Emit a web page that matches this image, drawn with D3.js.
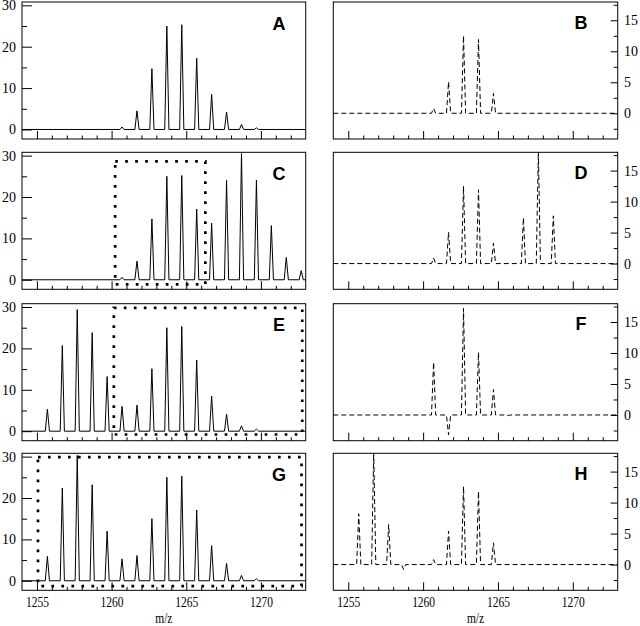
<!DOCTYPE html>
<html><head><meta charset="utf-8">
<script src="https://cdn.jsdelivr.net/npm/d3@7"></script>
<style>body{margin:0;background:#fff}svg{display:block}</style>
</head><body>
<script>
// ---- data ----
const peakMz = [1255.7,1256.7,1257.7,1258.7,1259.7,1260.7,1261.7,1262.7,1263.7,1264.7,1265.7,1266.7,1267.7,1268.7,1269.7,1270.7,1271.7,1272.7];
const heightsA = [null,null,null,null,null,0.6,4.5,14.7,25.0,25.3,17.2,8.5,4.2,1.2,0.4,null,null,null];
const heightsB = [null,null,null,null,null,0.8,5.1,12.5,11.9,3.2,null,null,null,null,null,null,null,null];
const heightsC = [null,null,null,null,null,0.6,4.5,14.7,25.0,25.2,17.1,13.7,24.0,30.5,24.1,13.1,5.4,2.2];
const heightsD = [null,null,null,null,null,0.9,5.05,12.5,11.9,3.3,null,7.4,18.1,7.7,null,null,null,null];
const heightsE = [5.3,20.7,29.4,23.8,13.2,6.0,6.3,15.1,25.0,25.3,17.2,8.5,4.1,1.3,0.5,null,null,null];
const heightsF = [null,null,null,null,null,8.5,-3.2,17.2,10.1,4.1,-0.1,null,null,null,null,null,null,null];
const heightsG = [5.9,22.4,30.3,23.2,12.0,5.3,6.1,15.0,25.0,25.3,17.1,8.5,4.2,1.3,0.5,null,null,null];
const heightsH = [8.2,18.2,6.45,-0.8,null,0.8,5.4,12.6,11.8,3.5,null,null,null,null,null,null,null,null];
const panelLabels = ["A","B","C","D","E","F","G","H"];
// dotted selection boxes [mzStart, mzEnd, yLow, yHigh]
const boxC = [1260.24, 1266.28, -1.1, 28.6];
const boxE = [1260.15, 1272.77, -0.8, 29.8];
const boxG = [1255.07, 1272.72, -1.28, 29.9];
const xMajorTicks = [1255,1260,1265,1270];
const xMinorTicks = d3.range(1255,1273,1);
const leftYMajor = [0,10,20,30];
const leftYMinor = [5,15,25];
const rightYMajor = [0,5,10,15];
const rightYMinor = [-2.5,2.5,7.5,12.5,17.5];
const xDomain = [1254,1273];
const leftYDomain = [-2.3,30.8];
const rightYDomain = [-4.15,17.95];
const xTitle = "m/z";

// ---- layout ----
const W=640,H=626;
const rowTops=[2,152.3,303.7,453.3];
const panelH=137;
const colX=[[22,305.7],[333.3,617.7]];
const serif="'Liberation Serif','Times New Roman',serif";
const svg=d3.select("body").append("svg").attr("width",W).attr("height",H);

const panels=[
 {h:heightsA,col:0,row:0,box:null},
 {h:heightsB,col:1,row:0,box:null},
 {h:heightsC,col:0,row:1,box:boxC},
 {h:heightsD,col:1,row:1,box:null},
 {h:heightsE,col:0,row:2,box:boxE},
 {h:heightsF,col:1,row:2,box:null},
 {h:heightsG,col:0,row:3,box:boxG},
 {h:heightsH,col:1,row:3,box:null}
];
const hw=0.14;

panels.forEach((p,i)=>{
  const top=rowTops[p.row], bot=top+panelH;
  const [x0,x1]=colX[p.col];
  const x=d3.scaleLinear().domain(xDomain).range([x0,x1]);
  const y=d3.scaleLinear().domain(p.col===0?leftYDomain:rightYDomain).range([bot,top]);
  const g=svg.append("g");
  const cid="clip"+i;
  svg.append("clipPath").attr("id",cid).append("rect")
    .attr("x",x0).attr("y",top).attr("width",x1-x0).attr("height",panelH);

  // trace
  const pts=[[xDomain[0],0]];
  peakMz.forEach((m,k)=>{
    const v=p.h[k];
    if(v==null) return;
    pts.push([m-hw,0],[m,v],[m+hw,0]);
  });
  pts.push([xDomain[1],0]);
  const line=d3.line().x(d=>x(d[0])).y(d=>y(d[1]));
  g.append("path").attr("d",line(pts)).attr("fill","none")
    .attr("stroke","#000").attr("stroke-width",1)
    .attr("stroke-dasharray",p.col===1?"5,3":null)
    .attr("clip-path",`url(#${cid})`);

  // dotted box
  if(p.box){
    const b=p.box;
    g.append("rect").attr("x",x(b[0])).attr("y",y(b[3]))
      .attr("width",x(b[1])-x(b[0])).attr("height",y(b[2])-y(b[3]))
      .attr("fill","none").attr("stroke","#000").attr("stroke-width",2.7)
      .attr("stroke-dasharray","2.7,7.3");
  }

  // x axis ticks (inward)
  const isBottom=p.row===3;
  const xa=g.append("g").attr("transform",`translate(0,${bot})`)
    .call(d3.axisBottom(x).tickValues(xMajorTicks).tickSizeInner(-8).tickSizeOuter(0).tickPadding(6.5)
      .tickFormat(isBottom?d3.format("d"):()=>""));
  xa.select(".domain").remove();
  xa.selectAll("line").attr("stroke","#000");
  xa.selectAll("text").attr("font-family",serif).attr("font-size",14).attr("fill","#000")
    .attr("transform","scale(0.82,1)");
  const xm=g.append("g").attr("transform",`translate(0,${bot})`)
    .call(d3.axisBottom(x).tickValues(xMinorTicks.filter(v=>!xMajorTicks.includes(v))).tickSizeInner(-3.5).tickSizeOuter(0).tickFormat(()=>""));
  xm.select(".domain").remove();
  xm.selectAll("line").attr("stroke","#000");

  // y axis
  if(p.col===0){
    const ya=g.append("g").attr("transform",`translate(${x0},0)`)
      .call(d3.axisLeft(y).tickValues(leftYMajor).tickSizeInner(-10).tickSizeOuter(0).tickPadding(6));
    ya.select(".domain").remove();
    ya.selectAll("line").attr("stroke","#000");
    ya.selectAll("text").attr("font-family",serif).attr("font-size",14).attr("fill","#000");
    const ym=g.append("g").attr("transform",`translate(${x0},0)`)
      .call(d3.axisLeft(y).tickValues(leftYMinor).tickSizeInner(-5).tickSizeOuter(0).tickFormat(()=>""));
    ym.select(".domain").remove();
    ym.selectAll("line").attr("stroke","#000");
  } else {
    const ya=g.append("g").attr("transform",`translate(${x1},0)`)
      .call(d3.axisRight(y).tickValues(rightYMajor).tickSizeInner(-7).tickSizeOuter(0).tickPadding(6.3));
    ya.select(".domain").remove();
    ya.selectAll("line").attr("stroke","#000");
    ya.selectAll("text").attr("font-family",serif).attr("font-size",14).attr("fill","#000");
    const ym=g.append("g").attr("transform",`translate(${x1},0)`)
      .call(d3.axisRight(y).tickValues(rightYMinor).tickSizeInner(-4).tickSizeOuter(0).tickFormat(()=>""));
    ym.select(".domain").remove();
    ym.selectAll("line").attr("stroke","#000");
  }

  // frame
  g.append("rect").attr("x",x0).attr("y",top).attr("width",x1-x0).attr("height",panelH)
    .attr("fill","none").attr("stroke","#000").attr("stroke-width",1);

  // label
  g.append("text").text(panelLabels[i])
    .attr("x",p.col===0?279:581).attr("y",top+(p.col===0?27.5:26.5))
    .attr("text-anchor","middle").attr("font-family","'Liberation Sans',Arial,sans-serif")
    .attr("font-weight","bold").attr("font-size",18).attr("fill","#000");

  if(isBottom){
    g.append("text").text(xTitle)
      .attr("transform",`translate(${(x0+x1)/2},623) scale(0.82,1)`)
      .attr("text-anchor","middle").attr("font-family",serif).attr("font-size",14).attr("fill","#000");
  }
});
</script>
</body></html>
